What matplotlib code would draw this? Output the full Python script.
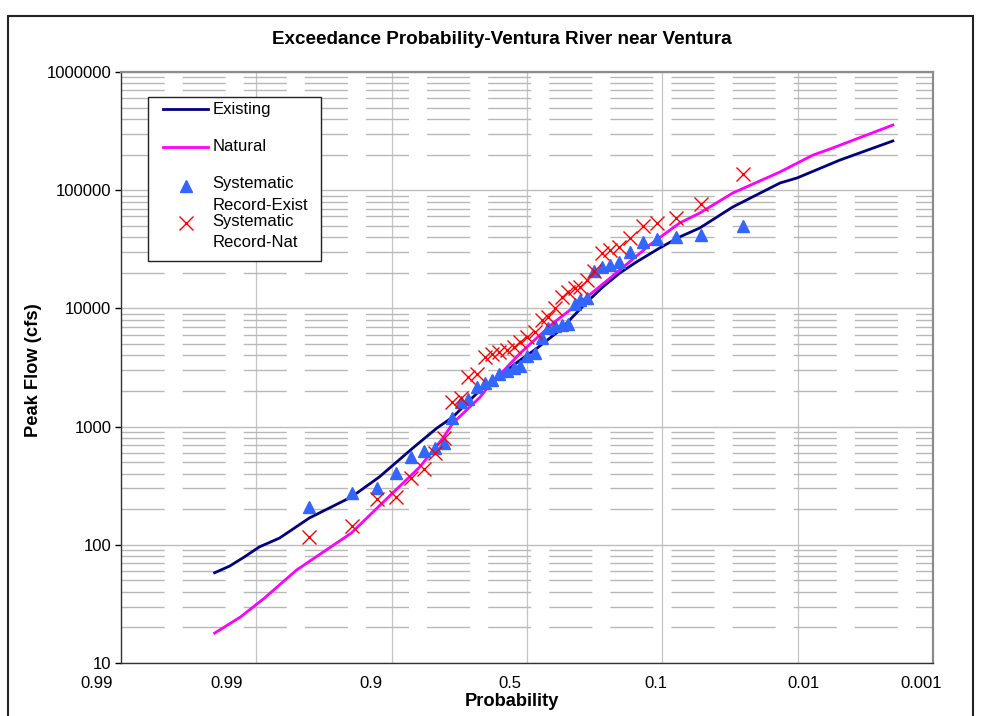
import numpy as np
import matplotlib
matplotlib.use("Agg")
import matplotlib.pyplot as plt
from matplotlib.lines import Line2D
from matplotlib.patches import Rectangle
from matplotlib.ticker import LogLocator, NullFormatter
from matplotlib.transforms import blended_transform_factory

plt.rcParams['font.family'] = ['Liberation Sans', 'DejaVu Sans']

# probability axis labels, and where they sit across the 6 grid cells
tick_probs = [0.999, 0.99, 0.9, 0.5, 0.1, 0.01, 0.001]
tick_text = ["0.99", "0.99", "0.9", "0.5", "0.1", "0.01", "0.001"]
tick_cells = [-0.18, 0.78, 1.85, 2.87, 3.95, 5.04, 5.91]

flow_ticks = [10, 100, 1000, 10000, 100000, 1000000]

# frequency curves
prob_existing = [0.9919, 0.9895, 0.9866, 0.9829, 0.9763, 0.9616, 0.926, 0.888, 0.823,
                 0.760, 0.711, 0.614, 0.459, 0.397, 0.318, 0.238, 0.197, 0.160, 0.129,
                 0.0943, 0.0699, 0.0514, 0.0307, 0.0145, 0.0110, 0.00487, 0.00173]
flow_existing = [58, 66, 79, 96, 114, 169, 254, 375, 659, 973, 1205, 2040, 3660, 4620,
                 6570, 11300, 15200, 19900, 24700, 32400, 40200, 47900, 72100, 115000,
                 127000, 180000, 261000]

prob_natural = [0.9919, 0.98745, 0.9814, 0.9688, 0.926, 0.8653, 0.8065, 0.7423, 0.7105,
                0.6142, 0.5872, 0.459, 0.3412, 0.2376, 0.1598, 0.1083, 0.0699, 0.0514,
                0.0307, 0.0145, 0.00824, 0.00592, 0.00173]
flow_natural = [17.9, 24.5, 35.5, 61.2, 126, 274, 455, 801, 1073, 1780, 2121, 4195, 7523,
                12490, 21130, 34400, 52790, 64140, 94700, 142600, 198500, 223200, 356100]

# systematic record (same plotting positions for both)
prob_record = [0.962, 0.925, 0.891, 0.858, 0.828, 0.796, 0.766, 0.739, 0.714, 0.683,
               0.659, 0.626, 0.595, 0.568, 0.540, 0.508, 0.481, 0.459, 0.433, 0.404,
               0.379, 0.358, 0.335, 0.312, 0.293, 0.272, 0.257, 0.238, 0.219, 0.199,
               0.181, 0.162, 0.141, 0.119, 0.0986, 0.0743, 0.0506, 0.0262]
flow_rec_exist = [210, 275, 300, 405, 550, 620, 660, 725, 1180, 1600, 1700, 2150, 2350,
                  2500, 2800, 2950, 3150, 3250, 3950, 4200, 5600, 6800, 7100, 7200, 7400,
                  10900, 11800, 12200, 20700, 22400, 23300, 24700, 30000, 36500, 38600,
                  40200, 41800, 49800]
flow_rec_nat = [116, 144, 244, 254, 368, 438, 598, 800, 1620, 1750, 2630, 2790, 3880,
                4110, 4280, 4450, 4720, 5200, 5730, 6310, 7980, 8460, 10100, 12500, 13800,
                14900, 15200, 17400, 20700, 29400, 31200, 33100, 39400, 49800, 52800,
                58200, 76400, 137000]

tp = np.array(tick_probs)
t_anch = np.log((1 - tp) / tp)
u_anch = np.array(tick_cells)
slope_lo = (u_anch[1] - u_anch[0]) / (t_anch[1] - t_anch[0])
slope_hi = (u_anch[-1] - u_anch[-2]) / (t_anch[-1] - t_anch[-2])


def prob_fwd(p):
    p = np.clip(np.asarray(p, dtype=float), 1e-9, 1 - 1e-9)
    t = np.log((1 - p) / p)
    u = np.interp(t, t_anch, u_anch)
    u = np.where(t < t_anch[0], u_anch[0] + (t - t_anch[0]) * slope_lo, u)
    u = np.where(t > t_anch[-1], u_anch[-1] + (t - t_anch[-1]) * slope_hi, u)
    return u


def prob_inv(u):
    u = np.asarray(u, dtype=float)
    t = np.interp(u, u_anch, t_anch)
    t = np.where(u < u_anch[0], t_anch[0] + (u - u_anch[0]) / slope_lo, t)
    t = np.where(u > u_anch[-1], t_anch[-1] + (u - u_anch[-1]) / slope_hi, t)
    return 1.0 / (1.0 + np.exp(t))


fig = plt.figure(figsize=(9.84, 7.16), dpi=100)
ax = fig.add_axes([121 / 984, 1 - 663 / 716, 812 / 984, 591 / 716])

ax.set_xscale('function', functions=(prob_fwd, prob_inv))
ax.set_yscale('log')

ax.plot(prob_existing, flow_existing, color='#000080', lw=2.0, zorder=3)
ax.plot(prob_natural, flow_natural, color='#FF00FF', lw=2.0, zorder=3)
ax.plot(prob_record, flow_rec_exist, ls='none', marker='^', ms=8.5,
        color='#3366FF', mec='#3366FF', zorder=4)
ax.plot(prob_record, flow_rec_nat, ls='none', marker='x', ms=10.5, mew=1.0,
        color='#FF0000', zorder=5)

# the first label sits left of the plot edge, so it is written as text
ax.set_xticks(tick_probs[1:], tick_text[1:])
ax.set_xticks(prob_inv(np.arange(1, 6)), minor=True)
ax.tick_params(axis='x', which='both', length=0, pad=9, labelsize=12)
xtr = blended_transform_factory(ax.transData, ax.transAxes)
ax.text(tick_probs[0], -12.5 / 591, tick_text[0], transform=xtr,
        ha='center', va='top', fontsize=12, clip_on=False)

ax.set_yticks(flow_ticks, [str(v) for v in flow_ticks])
ax.yaxis.set_minor_locator(LogLocator(base=10, subs=np.arange(2, 10)))
ax.yaxis.set_minor_formatter(NullFormatter())
ax.tick_params(axis='y', which='major', length=4, width=1, pad=3, labelsize=12)
ax.tick_params(axis='y', which='minor', length=0)

ax.set_xlim(float(prob_inv(6)), float(prob_inv(0)))
ax.set_ylim(10, 1000000)

ax.grid(True, axis='x', which='minor', color='#c4c4c4', lw=0.9)
ax.grid(True, axis='y', which='major', color='#bdbdbd', lw=1.0)
ax.grid(True, axis='y', which='minor', color='#b8b8b8', lw=1.0,
        linestyle=(0, (31, 13)))
ax.set_axisbelow(True)

for side in ('top', 'right'):
    ax.spines[side].set_color('#8c8c8c')
    ax.spines[side].set_linewidth(1.6)
for side in ('left', 'bottom'):
    ax.spines[side].set_color('#333333')
    ax.spines[side].set_linewidth(1.0)

ax.set_xlabel('Probability', fontsize=13.2, fontweight='bold', va='center')
ax.xaxis.set_label_coords((512 - 121) / 812, (663 - 702) / 591)
ax.set_ylabel('Peak Flow (cfs)', fontsize=13.2, fontweight='bold', va='center')
ax.yaxis.set_label_coords((34 - 121) / 812, (663 - 370) / 591)

fig.text(502 / 984, 1 - 40 / 716, 'Exceedance Probability-Ventura River near Ventura',
         ha='center', va='center', fontsize=13.6, fontweight='bold')

# legend box, drawn by hand to keep the two-line entries tight
tr = ax.transAxes
ax.add_patch(Rectangle((0.0333, 0.6802), 0.2130, 0.2775, transform=tr,
                       facecolor='white', edgecolor='#222222', lw=1.0, zorder=6))
ax.add_line(Line2D([0.0517, 0.1071], [0.9369, 0.9369], transform=tr,
                   color='#000080', lw=2.0, zorder=7))
ax.add_line(Line2D([0.0517, 0.1071], [0.8731, 0.8731], transform=tr,
                   color='#FF00FF', lw=2.0, zorder=7))
ax.add_line(Line2D([0.0800], [0.8071], transform=tr, ls='none', marker='^', ms=8.5,
                   color='#3366FF', zorder=7))
ax.add_line(Line2D([0.0800], [0.7445], transform=tr, ls='none', marker='x', ms=10.5,
                   mew=1.0, color='#FF0000', zorder=7))
legend_rows = [('Existing', 0.9369), ('Natural', 0.8731), ('Systematic', 0.8105),
               ('Record-Exist', 0.7733), ('Systematic', 0.7462), ('Record-Nat', 0.7107)]
for label, yy in legend_rows:
    ax.text(0.1129, yy, label, transform=tr, ha='left', va='center',
            fontsize=12, zorder=7)

# outer chart frame
fig.patches.append(Rectangle((8 / 984, -0.05), (973 - 8) / 984, 1.05 - 16 / 716,
                             transform=fig.transFigure, fill=False,
                             edgecolor='#222222', lw=1.5))

fig.savefig('out.png', dpi=100)
